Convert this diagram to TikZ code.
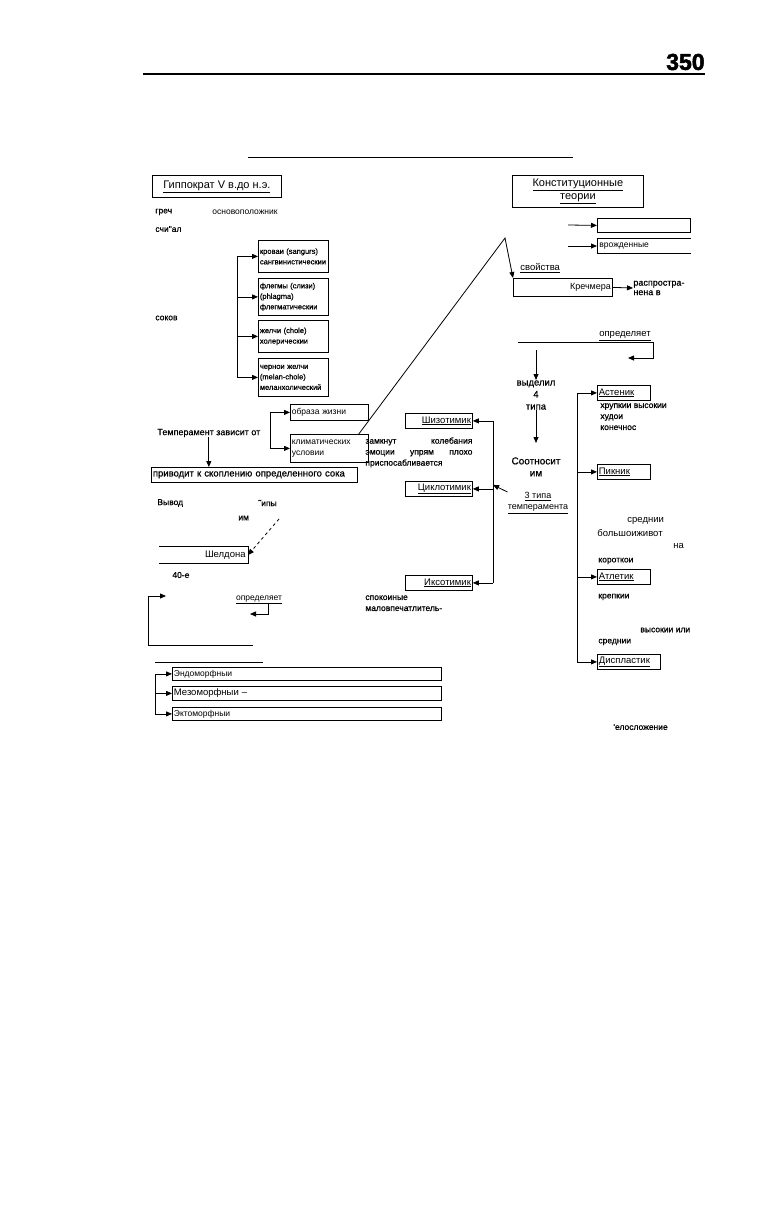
\documentclass[tikz,border=0pt]{standalone}
\usepackage{fontspec}
\setmainfont{Liberation Sans}
\newfontfamily\heavy{Liberation Sans}[FakeBold=0.7]
\newfontfamily\numfont{Liberation Sans Bold}[FakeBold=2.2]
\usetikzlibrary{arrows.meta, positioning, calc}

\begin{document}
\begin{tikzpicture}[
        x=1pt, y=-1pt,
        every node/.style={font=\fontsize{8.5}{11}\selectfont},
        box/.style={rectangle, draw, inner sep=1.5pt},
        lbox/.style={box, align=left, text width=#1},
        rbox/.style={box, align=right, text width=#1},
        small/.style={font=\heavy\fontsize{7.5}{10.5}\selectfont},
        big/.style={font=\fontsize{9.5}{11}\selectfont},
        head/.style={font=\fontsize{11}{12.5}\selectfont},
        hv/.style={font=\heavy\fontsize{#1}{11}\selectfont},
        hv/.default=8.5,
        txt/.style={inner sep=0pt, anchor=west},
        arr/.style={-{Triangle[length=6pt, width=5pt]}},
        line width=0.8pt,
        node distance=4pt
        ]
        \useasboundingbox (0,0) rectangle (758,1226);
        % header
        \node[font=\fontsize{23}{23}\selectfont\numfont, inner sep=0pt, anchor=east] (pagenum) at (705,62) {350};
        \coordinate (ruleL) at (143,74);
        \coordinate (ruleR) at (705,74);
        \draw[line width=2.6pt] (ruleL) -- (ruleR);
        \coordinate (titleL) at (248,157);
        \coordinate (titleR) at (573,157);
        \draw (titleL) -- (titleR);

        \node[box, head, minimum width=129, minimum height=22, anchor=north west] (hipp) at (152,175) {\underline{Гиппократ V в.до н.э.}};
        \node[box, head, minimum width=131, minimum height=32, align=center, anchor=north west] (const) at (512,175) {\underline{Конституционные}\\\underline{теории}};

        \node[txt, hv] (grech) at (155,212) {греч};
        \node[txt] (osnov) at (212,212) {основоположник};
        \node[txt, hv] (schital) at (155,229) {счи"ал};
        \node[txt, hv] (sokov) at (155,318) {соков};

        % four humours
        \node[lbox=67, small, minimum height=32, anchor=north west] (krov) at (258,240) {кроваи (sangurs)\\сангвинистическии};
        \node[lbox=67, small, minimum height=37, anchor=north west] (fleg) at (258,278) {флегмы (слизи)\\(phlagma)\\флегматическии};
        \node[lbox=67, small, minimum height=32, anchor=north west] (zhel) at (258,320) {желчи (chole)\\холерическии};
        \node[lbox=67, small, minimum height=38, anchor=north west] (cher) at (258,358) {чернои желчи\\(melan-chole)\\меланхолический};
        \coordinate (hb) at (237,256);
        \draw (hb |- krov.west) -- (hb |- cher.west);
        \foreach \b in {krov,fleg,zhel,cher}
            \draw[arr] (hb |- \b.west) -- (\b.west);

        % temperament depends on
        \node[lbox=75, minimum height=16, anchor=north west] (obraz) at (290,404) {образа жизни};
        \node[lbox=75, minimum height=28, anchor=north west] (klim) at (290,434) {климатических\\условии};
        \coordinate (lb) at (270,412);
        \draw (lb |- obraz.west) -- (lb |- klim.west);
        \foreach \b in {obraz,klim}
            \draw[arr] (lb |- \b.west) -- (\b.west);
        \node[txt, hv=9] (temp) at (157,433) {Темперамент зависит от};
        \node[lbox=203, hv=9.5, minimum height=15, anchor=north west] (privod) at (151,467) {приводит к скоплению определенного сока};
        \draw[arr] (temp.south) -- (temp.south |- privod.north);

        \node[txt, hv] (vyvod) at (157,503) {Вывод};
        \node[txt, hv] (tipy) at (258,503) {˜ипы};
        \node[txt, hv] (im1) at (238,518) {им};
        \node[anchor=east, text width=84, align=right, minimum height=16, inner sep=2pt, big] (sheld) at (248,555) {Шелдона};
        \draw (sheld.north west) -- (sheld.north east) -- (sheld.south east) -- (sheld.south west);
        \coordinate (dashS) at (279,519);
        \draw[arr, dashed] (dashS) -- (sheld.east);
        \node[txt, hv] (forty) at (172,575) {40-е};

        \node[txt, anchor=base] (opr2) at (259,600) {\underline{определяет}};
        \coordinate (opr2a) at (268,603);
        \coordinate (opr2b) at (250,614);
        \draw[arr] (opr2a) -- (opr2a |- opr2b) -- (opr2b);
        \coordinate (lpA) at (253,645);
        \coordinate (lpB) at (148,645);
        \coordinate (lpC) at (148,596);
        \coordinate (lpD) at (166,596);
        \draw[arr] (lpA) -- (lpB) -- (lpC) -- (lpD);

        % Sheldon types
        \coordinate (shL) at (155,662);
        \coordinate (shR) at (263,662);
        \draw (shL) -- (shR);
        \node[lbox=266, minimum height=13, anchor=north west] (endo) at (172,667) {Эндоморфныи};
        \node[lbox=266, big, minimum height=14, anchor=north west] (mezo) at (172,686) {Мезоморфныи --};
        \node[lbox=266, minimum height=13, anchor=north west] (ekto) at (172,707) {Эктоморфныи};
        \coordinate (bb) at (155,673);
        \draw (bb |- endo.west) -- (bb |- ekto.west);
        \foreach \b in {endo,mezo,ekto}
            \draw[arr] (bb |- \b.west) -- (\b.west);

        % constitutional theories
        \node[box, minimum width=93, minimum height=14, anchor=north west] (topbox) at (597,218) {};
        \coordinate (ta) at (568,225);
        \draw[arr] (ta) -- (topbox.west);
        \node[anchor=west, text width=89, align=left, minimum height=14, inner sep=2pt] (vrozh) at (597,246) {врожденные};
        \draw (vrozh.north east) -- (vrozh.north west) -- (vrozh.south west) -- (vrozh.south east);
        \draw[arr] (ta |- vrozh.west) -- (vrozh.west);

        \node[rbox=96, font=\fontsize{9}{11}\selectfont, minimum height=18, anchor=north west] (krech) at (513,278) {Кречмера};
        \node[txt, big] (svoist) at (520,268) {\underline{свойства}};
        \coordinate (apex) at (505,238);
        \draw[arr] ($(klim.north east)+(-10,0)$) -- (apex) -- (krech.north west);
        \node[txt, align=left, font=\heavy\fontsize{9}{9.5}\selectfont] (rasp) at (633,288) {распростра-\\нена в};
        \draw[arr] (krech.east) -- (rasp.west);

        \coordinate (oprA) at (518,342);
        \coordinate (oprB) at (653,342);
        \coordinate (oprC) at (628,358);
        \node[txt, big, anchor=south east] (opr1) at (651,341) {\underline{определяет}};
        \draw (oprA) -- (oprB);
        \draw[arr] (oprB) -- (oprB |- oprC) -- (oprC);

        \coordinate (dA) at (536,350);
        \node[txt, anchor=north, align=center, font=\heavy\fontsize{9.5}{12}\selectfont] (vydel) at (536,380) {выделил\\4\\типа};
        \draw[arr] (dA) -- (vydel.north);
        \node[txt, anchor=north, align=center, font=\heavy\fontsize{10}{12}\selectfont] (sootn) at (536,457) {Соотносит\\им};
        \draw[arr, shorten >=14pt] (vydel.south) -- (sootn.north);

        % Kretschmer temperaments
        \node[rbox=64, big, minimum height=15, anchor=north west] (shiz) at (405,413) {\underline{Шизотимик}};
        \node[rbox=64, big, minimum height=15, anchor=north west] (cikl) at (405,481) {\underline{Циклотимик}};
        \node[rbox=64, big, minimum height=15, anchor=north west] (iks) at (405,575) {\underline{Иксотимик}};
        \coordinate (mv) at (493,421);
        \draw (mv |- shiz.east) -- (mv |- iks.east);
        \foreach \b in {shiz,cikl,iks}
            \draw[arr] (mv |- \b.east) -- (\b.east);
        \node[txt, anchor=north, align=center, font=\fontsize{9}{11}\selectfont] (tri) at (538,492) {\underline{3 типа}\\\underline{темперамента}};
        \draw[arr] (tri.north west) -- ($(mv |- cikl.east)+(0,-4)$);
        \node[txt, hv, anchor=north west, text width=107, align=left] (shizt) at (365,437) {замкнут\hfill колебания\\эмоции\hfill упрям\hfill плохо\\приспосабливается};
        \node[txt, hv, anchor=north west, align=left] (ikst) at (365,595) {спокоиные\\маловпечатлитель-};

        % Kretschmer body types
        \node[lbox=50, big, minimum height=15, anchor=north west] (asten) at (597,385) {\underline{Астеник}};
        \node[lbox=50, big, minimum height=15, anchor=north west] (pikn) at (597,464) {\underline{Пикник}};
        \node[lbox=50, big, minimum height=15, anchor=north west] (atlet) at (597,569) {\underline{Атлетик}};
        \node[lbox=60, big, minimum height=15, anchor=north west] (displ) at (597,654) {\underline{Диспластик}};
        \coordinate (rv) at (577,393);
        \draw (rv |- asten.west) -- (rv |- displ.west);
        \foreach \b in {asten,pikn,atlet,displ}
            \draw[arr] (rv |- \b.west) -- (\b.west);
        \node[txt, hv, anchor=north west, align=left] (astt) at (600,403) {хрупкии высокии\\худои\\конечнос};
        \node[txt, big] (sred1) at (627,521) {среднии};
        \node[txt, big] (bolsh) at (597,533) {большоиживот};
        \node[txt, big] (na) at (673,546) {на};
        \node[txt, hv] (korot) at (598,561) {короткои};
        \node[txt, hv] (krep) at (598,597) {крепкии};
        \node[txt, hv] (vysok) at (640,630) {высокии или};
        \node[txt, hv] (sred2) at (598,642) {среднии};
        \node[txt, hv] (telo) at (613,727) {'елосложение};
\end{tikzpicture}
\end{document}
